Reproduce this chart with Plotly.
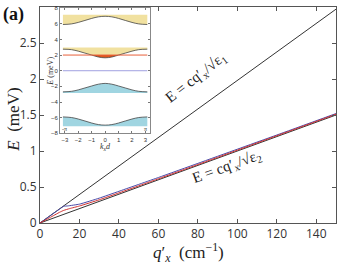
import plotly.graph_objects as go

# ---- main panel data ----
q_line = [0, 150]
E_eps1 = [0, 2.97]
E_eps2 = [0, 1.50]

q_blue = [0, 5, 10, 12, 14, 20, 30, 40, 60, 80, 100, 120, 150]
E_blue = [0, 0.098, 0.195, 0.232, 0.237, 0.262, 0.345, 0.44, 0.632, 0.828, 1.025, 1.222, 1.52]

q_red = [0, 5, 10, 12, 15, 20, 30, 40, 60, 80, 100, 120, 150]
E_red = [0, 0.075, 0.15, 0.175, 0.2, 0.236, 0.322, 0.418, 0.614, 0.812, 1.012, 1.212, 1.511]

x_ticks = [0, 20, 40, 60, 80, 100, 120, 140]
y_ticks = [0, 0.5, 1, 1.5, 2, 2.5, 3]
y_ticktext = ["0", "0.5", "1", "1.5", "2", "2.5", "3"]

# ---- inset data ----
k = [-3.1416, -2.5, -2.0, -1.5, -1.0, -0.5, 0, 0.5, 1.0, 1.5, 2.0, 2.5, 3.1416]
band1 = [5.9, 5.98, 6.17, 6.42, 6.68, 6.88, 6.95, 6.88, 6.68, 6.42, 6.17, 5.98, 5.9]
band1_top = 7.15
band2 = [2.75, 2.69, 2.5, 2.25, 2.0, 1.75, 1.65, 1.75, 2.0, 2.25, 2.5, 2.69, 2.75]
band2_top = 2.95
red_level = 2.0
band3 = [-2.7, -2.63, -2.45, -2.2, -1.95, -1.72, -1.62, -1.72, -1.95, -2.2, -2.45, -2.63, -2.7]
band3_bot = -2.85
band4 = [-5.9, -5.98, -6.17, -6.42, -6.68, -6.88, -6.95, -6.88, -6.68, -6.42, -6.17, -5.98, -5.9]
band4_bot = -7.1
k_ticks = [-3, -2, -1, 0, 1, 2, 3]
e_ticks = [-8, -6, -4, -2, 0, 2, 4, 6, 8]

fig = go.Figure()

dark = "#333333"
blue = "#4a4aa8"
red = "#d03030"

fig.add_trace(go.Scatter(x=q_line, y=E_eps1, mode="lines", line=dict(color=dark, width=1)))
fig.add_trace(go.Scatter(x=q_line, y=E_eps2, mode="lines", line=dict(color=dark, width=1)))
fig.add_trace(go.Scatter(x=q_blue, y=E_blue, mode="lines", line=dict(color=blue, width=1, shape="spline", smoothing=0.4)))
fig.add_trace(go.Scatter(x=q_red, y=E_red, mode="lines", line=dict(color=red, width=1, shape="spline", smoothing=0.4)))

# ---- inset traces ----
yellow = "rgba(240,222,150,0.9)"
cyan = "rgba(150,208,222,0.9)"
orange = "#e0561c"
band_line = "#444444"


def flat(v):
    return [v] * len(k)


# band 1 (yellow)
fig.add_trace(go.Scatter(x=k, y=flat(band1_top), mode="lines", line=dict(width=0), xaxis="x2", yaxis="y2"))
fig.add_trace(go.Scatter(x=k, y=band1, mode="lines", fill="tonexty", fillcolor=yellow,
                         line=dict(color=band_line, width=0.8, shape="spline"), xaxis="x2", yaxis="y2"))
# band 2 (yellow above red line, orange below)
fig.add_trace(go.Scatter(x=k, y=flat(band2_top), mode="lines", line=dict(width=0), xaxis="x2", yaxis="y2"))
fig.add_trace(go.Scatter(x=k, y=[max(v, red_level) for v in band2], mode="lines", fill="tonexty", fillcolor=yellow,
                         line=dict(width=0, shape="spline"), xaxis="x2", yaxis="y2"))
fig.add_trace(go.Scatter(x=k, y=flat(red_level), mode="lines", line=dict(width=0), xaxis="x2", yaxis="y2"))
fig.add_trace(go.Scatter(x=k, y=[min(v, red_level) for v in band2], mode="lines", fill="tonexty", fillcolor=orange,
                         line=dict(width=0, shape="spline"), xaxis="x2", yaxis="y2"))
fig.add_trace(go.Scatter(x=k, y=band2, mode="lines", line=dict(color=band_line, width=0.8, shape="spline"),
                         xaxis="x2", yaxis="y2"))
fig.add_trace(go.Scatter(x=k, y=flat(red_level), mode="lines", line=dict(color="#e8603a", width=1),
                         xaxis="x2", yaxis="y2"))
fig.add_trace(go.Scatter(x=k, y=flat(0), mode="lines", line=dict(color="#a0a0e0", width=1),
                         xaxis="x2", yaxis="y2"))
# band 3 (cyan)
fig.add_trace(go.Scatter(x=k, y=flat(band3_bot), mode="lines", line=dict(width=0), xaxis="x2", yaxis="y2"))
fig.add_trace(go.Scatter(x=k, y=band3, mode="lines", fill="tonexty", fillcolor=cyan,
                         line=dict(color=band_line, width=0.8, shape="spline"), xaxis="x2", yaxis="y2"))
# band 4 (cyan)
fig.add_trace(go.Scatter(x=k, y=flat(band4_bot), mode="lines", line=dict(width=0), xaxis="x2", yaxis="y2"))
fig.add_trace(go.Scatter(x=k, y=band4, mode="lines", fill="tonexty", fillcolor=cyan,
                         line=dict(color=band_line, width=0.8, shape="spline"), xaxis="x2", yaxis="y2"))

tick_font = dict(family="Open Sans, Arial, sans-serif", size=12, color="#333333")
serif = "Liberation Serif, Times New Roman, serif"
small = dict(family="Arial", size=6, color="#333")

axis_common = dict(ticks="inside", ticklen=4, tickcolor="#555", showline=True, linecolor="#555", linewidth=1,
                   mirror="ticks", showgrid=False, zeroline=False, automargin=False)
inset_common = dict(ticks="inside", ticklen=2, tickcolor="#777", showline=True, linecolor="#888", linewidth=1,
                    mirror="ticks", showgrid=False, zeroline=False, automargin=False, tickfont=small)

fig.update_layout(
    width=349, height=267,
    margin=dict(l=40, r=13, t=7, b=44, autoexpand=False),
    paper_bgcolor="white", plot_bgcolor="white",
    showlegend=False,
    xaxis=dict(range=[0, 150], tickvals=x_ticks, tickfont=tick_font, **axis_common),
    yaxis=dict(range=[0, 3], tickvals=y_ticks, ticktext=y_ticktext, tickfont=tick_font, **axis_common),
    xaxis2=dict(domain=[0.068, 0.372], anchor="y2", range=[-3.35, 3.35], tickvals=k_ticks, **inset_common),
    yaxis2=dict(domain=[0.415, 0.995], anchor="x2", range=[-8, 8], tickvals=e_ticks, **inset_common),
    annotations=[
        dict(xref="paper", yref="paper", x=-0.133, y=1.025, xanchor="left", yanchor="top",
             text="<b>(a)</b>", showarrow=False, font=dict(family=serif, size=18, color="#111")),
        dict(xref="paper", yref="paper", x=0.5, y=-0.135, xanchor="center", yanchor="middle",
             text="<i>q</i>′<sub><i>x</i></sub>  (cm<sup>−1</sup>)", showarrow=False,
             font=dict(family=serif, size=17, color="#222")),
        dict(xref="paper", yref="paper", x=-0.09, y=0.48, xanchor="center", yanchor="middle", textangle=-90,
             text="<i>E</i>  (meV)", showarrow=False, font=dict(family=serif, size=17, color="#222")),
        dict(xref="x", yref="y", x=79, y=2.02, text="E = cq′<sub>x</sub>/√ε<sub>1</sub>", textangle=-38,
             showarrow=False, font=dict(family=serif, size=15, color="#222")),
        dict(xref="x", yref="y", x=95, y=0.78, text="E = cq′<sub>x</sub>/√ε<sub>2</sub>", textangle=-20,
             showarrow=False, font=dict(family=serif, size=15, color="#222")),
        dict(xref="x2", yref="paper", x=0, y=0.32, text="<i>k<sub>x</sub>d</i>", showarrow=False,
             font=dict(family=serif, size=8, color="#333")),
        dict(xref="paper", yref="y2", x=0.015, y=0, text="<i>E</i> (meV)", textangle=-90, showarrow=False,
             font=dict(family=serif, size=8, color="#333")),
        dict(xref="x2", yref="y2", x=-3.0, y=-7.4, text="-π", showarrow=False,
             font=dict(family=serif, size=6, color="#333")),
        dict(xref="x2", yref="y2", x=3.0, y=-7.4, text="π", showarrow=False,
             font=dict(family=serif, size=6, color="#333")),
    ],
)

fig.write_html("out.html", config={"displayModeBar": False},
               post_script="document.body.style.margin='0';document.body.style.padding='0';")
